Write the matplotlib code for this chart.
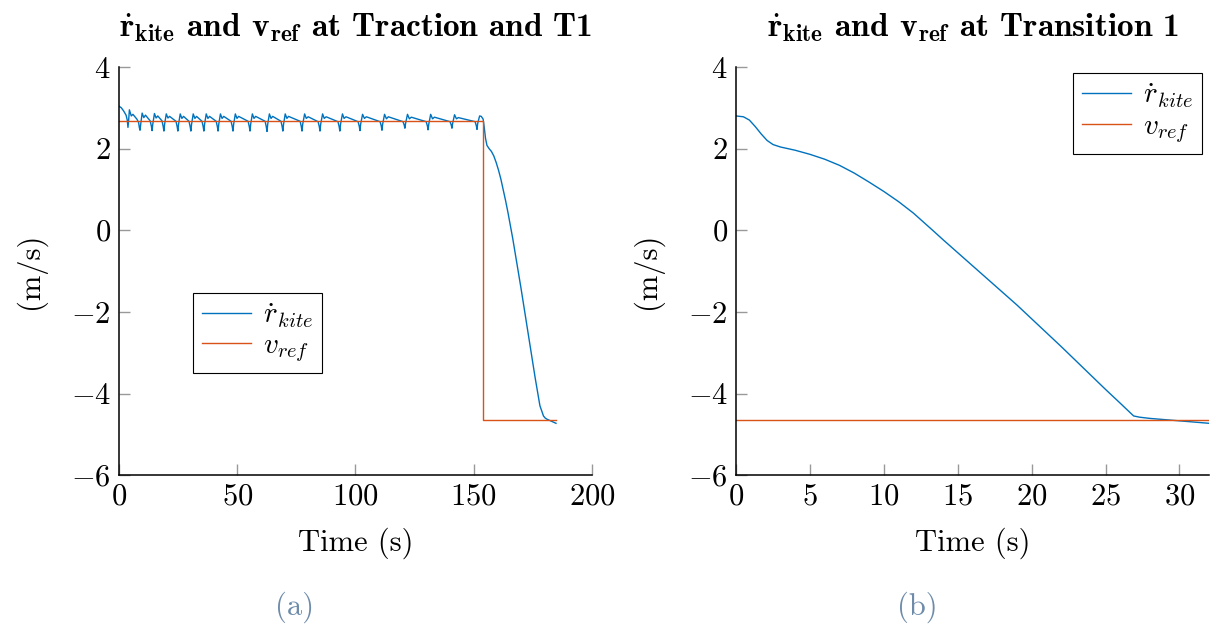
import matplotlib
matplotlib.use("Agg")
import matplotlib.pyplot as plt

# Fonts close to the LaTeX look
plt.rcParams["font.family"] = "cmr10"
plt.rcParams["mathtext.fontset"] = "cm"
plt.rcParams["axes.formatter.use_mathtext"] = True

blue = "#0072bd"
orange = "#d95319"

# Traction and T1: measured reel-out speed (time, value)
trac_time = [
    0, 1.0, 2.0, 3.0, 3.5, 3.8, 4.1, 4.4, 5.2, 5.9, 7.6, 8.3,
    8.6, 8.9, 9.2, 9.8, 10.5, 11.2, 13.2,
    13.7, 14.0, 14.3, 15.0, 15.7, 16.4, 18.2,
    18.7, 19.0, 19.3, 20.0, 20.7, 21.4, 24.1,
    24.6, 24.9, 25.2, 25.9, 26.6, 27.3, 29.6,
    30.1, 30.4, 30.7, 31.4, 32.1, 32.8, 35.1,
    35.6, 35.9, 36.2, 36.9, 37.6, 38.3, 41.1,
    41.6, 41.9, 42.2, 42.9, 43.6, 44.3, 47.4,
    47.9, 48.2, 48.5, 49.2, 49.9, 50.6, 54.6,
    55.1, 55.4, 55.7, 56.4, 57.1, 57.8, 61.8,
    62.3, 62.6, 62.9, 63.6, 64.3, 65.0, 68.5,
    69.0, 69.3, 69.6, 70.3, 71.0, 71.7, 76.6,
    77.1, 77.4, 77.7, 78.5, 79.2, 80.0, 84.2,
    84.7, 85.0, 85.3, 86.1, 86.8, 87.6, 92.6,
    93.1, 93.4, 93.7, 94.5, 95.2, 96.0, 101.1,
    101.6, 101.9, 102.2, 103.0, 103.8, 104.6, 110.4,
    110.9, 111.2, 111.5, 112.3, 113.1, 113.9, 120.1,
    120.6, 120.9, 121.2, 122.0, 122.8, 123.6, 129.9,
    130.4, 130.7, 131.0, 131.8, 132.6, 133.4, 140.0,
    140.5, 140.8, 141.1, 141.9, 142.7, 143.5, 150.6,
    151.1, 151.4, 151.7, 152.5, 153.2, 154.0, 154.5, 155.0, 155.6,
    156.5, 157.5, 158.5, 159.5, 160.5, 161.5, 162.5, 163.5, 164.5,
    165.5, 166.5, 168.0, 170.0, 172.0, 174.0, 176.0, 178.0, 179.5,
    180.2, 181.0, 182.5, 184.8,
]
trac_rdot = [
    3.04, 3.00, 2.92, 2.82, 2.70, 2.52, 2.70, 2.95, 2.80, 2.84, 2.72, 2.64,
    2.52, 2.45, 2.60, 2.87, 2.76, 2.82, 2.68,
    2.55, 2.44, 2.60, 2.86, 2.75, 2.80, 2.68,
    2.54, 2.43, 2.60, 2.85, 2.75, 2.79, 2.67,
    2.54, 2.43, 2.60, 2.85, 2.74, 2.79, 2.67,
    2.54, 2.43, 2.60, 2.85, 2.74, 2.79, 2.67,
    2.54, 2.43, 2.60, 2.85, 2.74, 2.79, 2.67,
    2.54, 2.43, 2.60, 2.85, 2.74, 2.79, 2.67,
    2.54, 2.43, 2.60, 2.85, 2.74, 2.79, 2.67,
    2.54, 2.43, 2.60, 2.85, 2.74, 2.79, 2.67,
    2.53, 2.42, 2.60, 2.85, 2.74, 2.79, 2.67,
    2.54, 2.43, 2.60, 2.85, 2.74, 2.79, 2.67,
    2.54, 2.43, 2.60, 2.85, 2.74, 2.78, 2.66,
    2.54, 2.43, 2.60, 2.85, 2.74, 2.78, 2.66,
    2.54, 2.43, 2.60, 2.85, 2.74, 2.78, 2.66,
    2.55, 2.44, 2.60, 2.84, 2.74, 2.78, 2.66,
    2.56, 2.45, 2.60, 2.84, 2.73, 2.78, 2.66,
    2.58, 2.50, 2.62, 2.84, 2.73, 2.77, 2.66,
    2.56, 2.46, 2.60, 2.84, 2.73, 2.77, 2.66,
    2.58, 2.50, 2.62, 2.83, 2.73, 2.76, 2.66,
    2.56, 2.47, 2.62, 2.80, 2.79, 2.72, 2.50, 2.25, 2.08,
    2.00, 1.93, 1.82, 1.66, 1.47, 1.25, 0.99, 0.72, 0.43,
    0.12, -0.20, -0.72, -1.42, -2.15, -2.88, -3.62, -4.30, -4.55,
    -4.60, -4.63, -4.67, -4.73,
]
# reference speed: constant, then step at start of transition
trac_ref_time = [0, 153.9, 153.9, 184.8]
trac_ref = [2.68, 2.68, -4.65, -4.65]

# Transition 1
tr1_time = [0, 0.5, 0.9, 1.3, 1.7, 2.1, 2.5, 3.0, 4.0, 5.0, 6.0, 7.0, 8.0,
            9.0, 10.0, 11.0, 12.0, 13.3, 14.0, 15.0, 16.0, 17.0, 18.0, 19.0,
            20.0, 21.0, 22.0, 23.0, 24.0, 25.0, 26.0, 26.9, 27.3, 28.0,
            29.0, 30.0, 31.0, 32.0]
tr1_rdot = [2.80, 2.78, 2.70, 2.54, 2.36, 2.20, 2.10, 2.04, 1.96, 1.86,
            1.74, 1.59, 1.40, 1.18, 0.95, 0.70, 0.42, 0.0, -0.23, -0.55,
            -0.87, -1.19, -1.51, -1.83, -2.17, -2.51, -2.85, -3.20, -3.55,
            -3.90, -4.24, -4.55, -4.58, -4.61, -4.64, -4.67, -4.70, -4.73]
tr1_ref_time = [0, 32.0]
tr1_ref = [-4.65, -4.65]

fig = plt.figure(figsize=(12.19, 6.26), dpi=100)
ax1 = fig.add_axes([0.0976, 0.241, 0.388, 0.652])
ax2 = fig.add_axes([0.6038, 0.241, 0.388, 0.652])

ax1.plot(trac_time, trac_rdot, color=blue, lw=1.0, label=r"$\dot{r}_{kite}$")
ax1.plot(trac_ref_time, trac_ref, color=orange, lw=1.0, label=r"$v_{ref}$")
ax2.plot(tr1_time, tr1_rdot, color=blue, lw=1.0, label=r"$\dot{r}_{kite}$")
ax2.plot(tr1_ref_time, tr1_ref, color=orange, lw=1.0, label=r"$v_{ref}$")

ax1.set_xlim(0, 200)
ax1.set_xticks([0, 50, 100, 150, 200])
ax2.set_xlim(0, 32)
ax2.set_xticks([0, 5, 10, 15, 20, 25, 30])

titles = [r"$\mathbf{\dot{r}_{kite}}$ and $\mathbf{v_{ref}}$ at Traction and T1",
          r"$\mathbf{\dot{r}_{kite}}$ and $\mathbf{v_{ref}}$ at Transition 1"]

for ax, ttl in zip([ax1, ax2], titles):
    ax.set_ylim(-6, 4)
    ax.set_yticks([-6, -4, -2, 0, 2, 4])
    ax.spines["top"].set_visible(False)
    ax.spines["right"].set_visible(False)
    ax.spines["left"].set_linewidth(1.1)
    ax.spines["bottom"].set_linewidth(1.1)
    ax.tick_params(direction="in", length=8, width=1, color="#999999",
                   labelsize=22, pad=6)
    ax.set_xlabel("Time (s)", fontsize=22, labelpad=12)
    ax.set_ylabel("(m/s)", fontsize=22, labelpad=18)
    ax.set_title(ttl, fontsize=24, family="cmb10", pad=22)

leg_kw = dict(fontsize=21, frameon=True, fancybox=False, edgecolor="black",
              handlelength=1.7, handletextpad=0.4, borderpad=0.3,
              labelspacing=0.1, borderaxespad=0)
l1 = ax1.legend(loc="lower left", bbox_to_anchor=(0.156, 0.25), **leg_kw)
l2 = ax2.legend(loc="upper right", bbox_to_anchor=(0.985, 0.985), **leg_kw)
for lg in (l1, l2):
    lg.get_frame().set_linewidth(0.8)
    lg.get_frame().set_alpha(1)

fig.text(295 / 1219, 1 - 607 / 626, "(a)", ha="center", va="center",
         fontsize=22, color="#6e8caa")
fig.text(917 / 1219, 1 - 607 / 626, "(b)", ha="center", va="center",
         fontsize=22, color="#6e8caa")

fig.savefig("out.png", dpi=100)
